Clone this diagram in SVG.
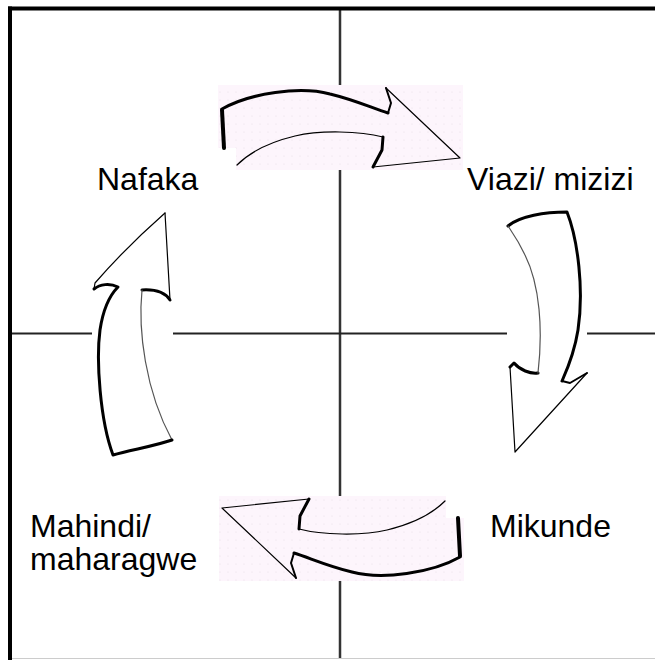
<svg xmlns="http://www.w3.org/2000/svg" width="655" height="660" viewBox="0 0 655 660">
<style>
.lbl{font-family:"Liberation Sans",Arial,sans-serif;font-size:32px;fill:#000}
.o{fill:none;stroke:#000;stroke-linecap:round;stroke-linejoin:round}
.t1{stroke-width:1.2}
.t2{stroke-width:2}
.t3{stroke-width:3}
.g{stroke:#555}
</style>
<defs>
<pattern id="dots" width="8" height="8" patternUnits="userSpaceOnUse">
<rect width="8" height="8" fill="#fdf5fc"/>
<circle cx="4" cy="4" r="0.6" fill="#eadfe8"/>
</pattern>
</defs>
<rect x="0" y="0" width="655" height="660" fill="#fff"/>
<g id="frame">
<line x1="340" y1="10" x2="340" y2="658" stroke="#333" stroke-width="2.5"/>
<line x1="12" y1="333.5" x2="655" y2="333.5" stroke="#222" stroke-width="2"/>
<line x1="12" y1="658.5" x2="655" y2="658.5" stroke="#ccc" stroke-width="1"/>
<line x1="8" y1="8.5" x2="655" y2="8.5" stroke="#000" stroke-width="4"/>
<line x1="10" y1="6.5" x2="10" y2="660" stroke="#000" stroke-width="4"/>
</g>
<g id="arrow-top">
<path d="M218,85 H463 V170 H236 V148 H218 Z" fill="url(#dots)"/>
<path class="o" style="stroke-width:4" d="M224,148 L222,110"/>
<path class="o t3" d="M222,109 C250,93 300,86 330,94 C355,100 372,108 388,113"/>
<path class="o t2" d="M388,113 L391,103 L386,88"/>
<path class="o t1" d="M386,88 L460,158 L373,167"/>
<path class="o t3" d="M373,167 L382,150 L383,137"/>
<path class="o t1" d="M383,137 C360,131 320,130 295,136 C270,142 250,152 237,165"/>
</g>
<g id="arrow-right">
<rect x="507" y="208" width="80" height="247" fill="#fff"/>
<path class="o t3" d="M508,226 C520,216 545,212 567,212 C578,240 584,290 578,330 C574,355 566,372 562,381"/>
<path class="o t2" d="M562,381 L570,383 L587,373"/>
<path class="o t1" d="M587,373 L515,452 L510,367"/>
<path class="o t3" d="M510,367 L514,363 C520,370 530,374 538,373"/>
<path class="o t1 g" d="M538,373 C543,330 540,285 525,255 C518,240 512,232 508,226"/>
</g>
<g id="arrow-bottom">
<path d="M464,581 H219 V496 H446 V518 H464 Z" fill="url(#dots)"/>
<path class="o" style="stroke-width:4" d="M458,518 L460,556"/>
<path class="o t3" d="M460,557 C432,573 382,580 352,572 C327,566 310,558 294,553"/>
<path class="o t2" d="M294,553 L291,563 L296,578"/>
<path class="o t1" d="M296,578 L222,508 L309,499"/>
<path class="o t3" d="M309,499 L300,516 L299,529"/>
<path class="o t1" d="M299,529 C322,535 362,536 387,530 C412,524 432,514 445,501"/>
</g>
<g id="arrow-left">
<rect x="92" y="211" width="81" height="247" fill="#fff"/>
<path class="o t1" d="M165,213 L170,300"/>
<path class="o t3" d="M170,300 C166,294 158,289 142,290"/>
<path class="o t1 g" d="M142,290 C138,330 145,390 172,440"/>
<path class="o t3" d="M172,440 C155,446 130,450 113,455 C100,420 96,360 100,330 C103,310 110,295 118,287 C110,283 100,284 94,289"/>
<path class="o t1" d="M94,289 L95,283 C115,260 140,235 165,213"/>
</g>
<g id="labels">
<text class="lbl" x="97" y="190">Nafaka</text>
<text class="lbl" x="467" y="190">Viazi/ mizizi</text>
<text class="lbl" x="490" y="537">Mikunde</text>
<text class="lbl" x="30" y="537">Mahindi/</text>
<text class="lbl" x="30" y="570">maharagwe</text>
</g>
</svg>
